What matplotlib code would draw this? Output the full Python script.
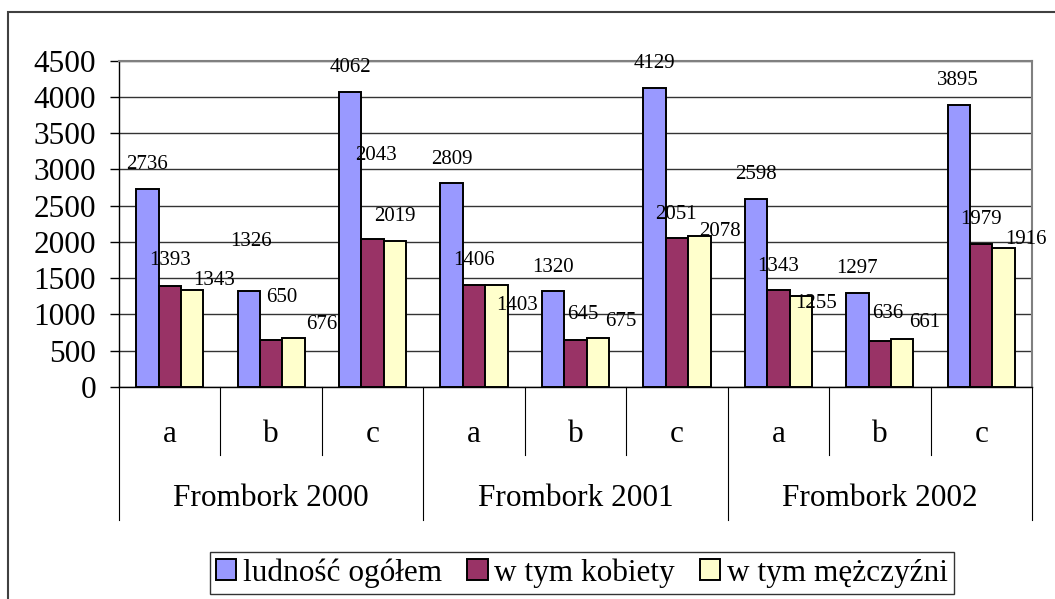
import numpy as np
import matplotlib
matplotlib.use('Agg')
import matplotlib.pyplot as plt
from matplotlib.patches import Rectangle, Patch

plt.rcParams['font.family'] = ['Liberation Serif', 'DejaVu Serif']

# Data
groups = ['Frombork 2000', 'Frombork 2001', 'Frombork 2002']
subcats = ['a', 'b', 'c']
series_names = ['ludność ogółem', 'w tym kobiety', 'w tym mężczyźni']
ludnosc = [2736, 1326, 4062, 2809, 1320, 4129, 2598, 1297, 3895]
kobiety = [1393, 650, 2043, 1406, 645, 2051, 1343, 636, 1979]
mezczyzni = [1343, 676, 2019, 1403, 675, 2078, 1255, 661, 1916]
yticks = np.arange(0, 4501, 500)

colors = ['#9999FF', '#993366', '#FFFFCC']

# label offsets (pixels) - labels in the original were nudged by hand
off_l = [(0, 24), (2, 49), (0, 25), (0, 24), (0, 24), (0, 24), (0, 24), (0, 24), (-1, 24)]
off_k = [(0, 25), (11, 42), (3, 83), (0, 25), (7, 26), (-1, 24), (0, 23), (8, 27), (0, 24)]
off_m = [(22, 9), (28, 13), (0, 24), (21, -20), (23, 17), (21, 5), (15, -8), (22, 17), (22, 9)]

W, H = 1055, 599
fig = plt.figure(figsize=(W / 100, H / 100), dpi=100)

# outer chart frame (runs off the right/bottom edge)
fig.patches.append(Rectangle((8 / W, -0.1), 1.2, 1.1 - 12 / H, transform=fig.transFigure,
                             fill=False, edgecolor='#404040', lw=1.5))

left, right, top, bottom = 119, 1032, 60.7, 387
ax = fig.add_axes([left / W, 1 - bottom / H, (right - left) / W, (bottom - top) / H])

x = np.arange(len(ludnosc))
w = 0.221
all_series = [ludnosc, kobiety, mezczyzni]
all_offs = [off_l, off_k, off_m]
for i, (vals, offs) in enumerate(zip(all_series, all_offs)):
    xs = x + (i - 1) * w
    ax.bar(xs, vals, w, color=colors[i], edgecolor='black', linewidth=1.4,
           label=series_names[i], zorder=3)
    for xi, v, (dx, dy) in zip(xs, vals, offs):
        ax.annotate(str(v), (xi, v), xytext=(dx, dy), textcoords='offset pixels',
                    ha='center', va='center', fontsize=15, zorder=4)

ax.set_xlim(-0.5, len(ludnosc) - 0.5)
ax.set_ylim(0, 4500)
ax.set_yticks(yticks)
ax.set_yticklabels([str(t) for t in yticks], fontsize=22.5)
ax.tick_params(axis='y', direction='out', length=6.5, width=1, pad=10)
ax.set_xticks([])
ax.yaxis.grid(True, color='#333333', lw=1)
ax.set_axisbelow(True)
for s in ['top', 'right']:
    ax.spines[s].set_color('#808080')
    ax.spines[s].set_linewidth(1.5)
for s in ['left', 'bottom']:
    ax.spines[s].set_color('black')
    ax.spines[s].set_linewidth(1)

# multi-level category axis
trans = ax.get_xaxis_transform()
ah = bottom - top
for b in np.arange(-0.5, len(ludnosc), 1.0):
    is_group = abs((b + 0.5) % 3) < 1e-9
    y_end = -133 / ah if is_group else -68 / ah
    ax.plot([b, b], [0, y_end], color='black', lw=0.8, transform=trans, clip_on=False)
for i in range(len(ludnosc)):
    ax.text(i, -48 / ah, subcats[i % 3], transform=trans, ha='center', va='center',
            fontsize=22.5)
for g, name in enumerate(groups):
    ax.text(g * 3 + 1, -112 / ah, name, transform=trans, ha='center', va='center',
            fontsize=22.5)

handles = [Patch(facecolor=c, edgecolor='black', linewidth=1.4) for c in colors]
leg = fig.legend(handles, series_names, loc='center', ncol=3,
                 bbox_to_anchor=(582 / W, 1 - 573 / H),
                 prop={'family': 'Liberation Serif', 'size': 22.5},
                 handlelength=0.65, handleheight=0.65, handletextpad=0.22,
                 columnspacing=0.8, borderpad=0.2, fancybox=False, frameon=True,
                 borderaxespad=0)
leg.get_frame().set_edgecolor('black')
leg.get_frame().set_linewidth(1)

fig.savefig('out.png', dpi=100)
